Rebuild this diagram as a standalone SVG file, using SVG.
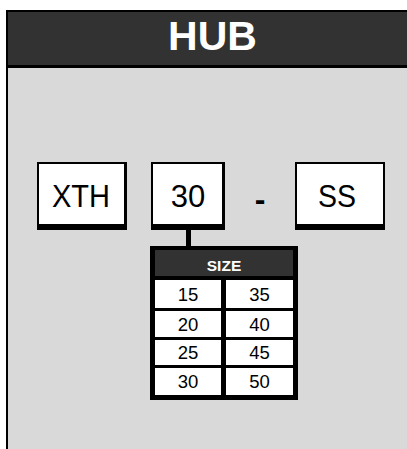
<svg xmlns="http://www.w3.org/2000/svg" width="407" height="449" viewBox="0 0 407 449">
<style>
.t{font-family:"Liberation Sans",Arial,sans-serif;fill:#000;text-anchor:middle}
.big{font-size:31px}
.cell{font-size:18.5px}
.w{fill:#fff}
.k{fill:#000}
.d{fill:#323232}
</style>
<rect x="0" y="0" width="407" height="449" fill="#fff"/>
<g id="frame">
<rect x="6" y="10" width="401" height="439" class="k"/>
<rect x="8" y="12" width="399" height="53" class="d"/>
<rect x="8" y="68" width="399" height="381" fill="#d9d9d9"/>
<text x="212.5" y="50" class="t" style="fill:#fff;font-size:41px;font-weight:bold">HUB</text>
</g>
<g id="box-xth">
<rect x="37" y="162" width="90" height="68" class="k"/>
<rect x="39" y="164" width="85" height="60" class="w"/>
<text x="81" y="207" class="t big" textLength="58" lengthAdjust="spacingAndGlyphs">XTH</text>
</g>
<g id="box-30">
<rect x="151" y="162" width="74" height="68" class="k"/>
<rect x="153" y="164" width="69" height="60" class="w"/>
<text x="188" y="207" class="t big">30</text>
</g>
<g id="dash">
<text x="260" y="210" class="t" style="font-size:32px;font-weight:bold">-</text>
</g>
<g id="box-ss">
<rect x="295" y="162" width="90" height="68" class="k"/>
<rect x="297" y="164" width="86" height="60" class="w"/>
<text x="337" y="207" class="t big" textLength="38" lengthAdjust="spacingAndGlyphs">SS</text>
</g>
<g id="connectors">
<rect x="186" y="229" width="5" height="18" class="k"/>
</g>
<g id="size-table">
<rect x="150" y="246" width="148" height="154" class="k"/>
<rect x="155" y="250" width="138" height="26" class="d"/>
<text x="224" y="271" class="t" style="fill:#fff;font-size:15.5px;font-weight:bold">SIZE</text>
<rect x="155" y="280" width="66" height="28" class="w"/>
<rect x="226" y="280" width="67" height="28" class="w"/>
<rect x="155" y="311" width="66" height="26" class="w"/>
<rect x="226" y="311" width="67" height="26" class="w"/>
<rect x="155" y="340" width="66" height="25" class="w"/>
<rect x="226" y="340" width="67" height="25" class="w"/>
<rect x="155" y="368" width="66" height="27" class="w"/>
<rect x="226" y="368" width="67" height="27" class="w"/>
<text x="188" y="301" class="t cell">15</text>
<text x="259.5" y="301" class="t cell">35</text>
<text x="188" y="331" class="t cell">20</text>
<text x="259.5" y="331" class="t cell">40</text>
<text x="188" y="359" class="t cell">25</text>
<text x="259.5" y="359" class="t cell">45</text>
<text x="188" y="388" class="t cell">30</text>
<text x="259.5" y="388" class="t cell">50</text>
</g>
</svg>
